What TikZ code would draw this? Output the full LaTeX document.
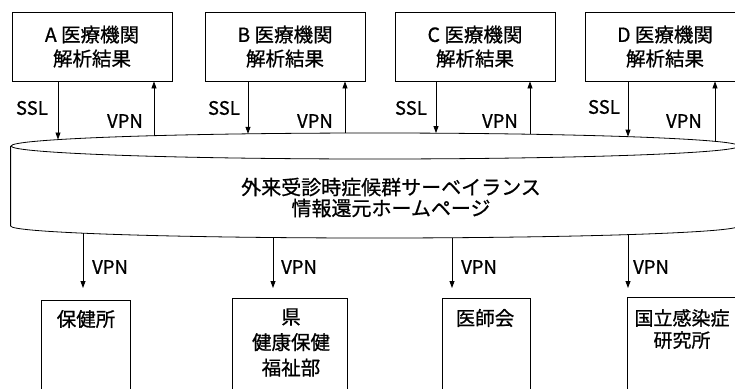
\documentclass[tikz,border=0pt]{standalone}
\usepackage{fontspec}
\setmainfont{Noto Sans CJK JP}[FakeBold=0.8]
\usetikzlibrary{arrows.meta,shapes.geometric}
\begin{document}
\begin{tikzpicture}[x=1pt,y=-1pt,
  box/.style={draw, line width=0.8pt, inner sep=0pt},
  topbox/.style={box, minimum width=160pt, minimum height=69pt,
    font=\fontsize{19.5}{24}\selectfont, align=center},
  botbox/.style={box, minimum height=110pt, anchor=north west},
  boxtxt/.style={font=\fontsize{19.5}{25}\selectfont, align=center, inner sep=0pt},
  lbl/.style={font=\fontsize{18.5}{20}\selectfont, inner sep=0pt},
  conn/.style={line width=0.8pt, -{Triangle[length=7pt,width=5pt]}},
  cylline/.style={line width=0.8pt}]
\useasboundingbox (0,0) rectangle (735,388);
\clip (0,0) rectangle (735,388);

% top boxes
\node[topbox] (A) at (92,46.5) {A 医療機関\\解析結果};
\node[topbox] (B) at (285,46.5) {B 医療機関\\解析結果};
\node[topbox] (C) at (475,46.5) {C 医療機関\\解析結果};
\node[topbox] (D) at (665,46.5) {D 医療機関\\解析結果};

% cylinder
\node[ellipse, draw, cylline, minimum width=728pt, minimum height=26pt, inner sep=0pt] (cyltop) at (375,146) {};
\draw[cylline] (cyltop.west) -- ++(0,80)
  arc[start angle=180, end angle=360, x radius=364pt, y radius=12pt]
  -- (cyltop.east);
\node[font=\fontsize{20}{21}\selectfont, align=center, inner sep=0pt] (cyltxt) at (391,197.5)
  {外来受診時症候群サーベイランス\\情報還元ホームページ};

% contact points on the top ellipse
\coordinate (eA1) at (58,139.5);  \coordinate (eA2) at (154,135.7);
\coordinate (eB1) at (248,133.8); \coordinate (eB2) at (345,133.0);
\coordinate (eC1) at (436,133.1); \coordinate (eC2) at (530,134.2);
\coordinate (eD1) at (628,136.6); \coordinate (eD2) at (715,141.4);

% SSL down, VPN up
\draw[conn] (A.south -| eA1) -- (eA1);
\draw[conn] (eA2) -- (A.south -| eA2);
\draw[conn] (B.south -| eB1) -- (eB1);
\draw[conn] (eB2) -- (B.south -| eB2);
\draw[conn] (C.south -| eC1) -- (eC1);
\draw[conn] (eC2) -- (C.south -| eC2);
\draw[conn] (D.south -| eD1) -- (eD1);
\draw[conn] (eD2) -- (D.south -| eD2);

\node[lbl, anchor=east] (sA) at (48,108) {SSL};
\node[lbl, anchor=east] (sB) at (240,108) {SSL};
\node[lbl, anchor=east] (sC) at (427,108) {SSL};
\node[lbl, anchor=east] (sD) at (620,107) {SSL};
\node[lbl, anchor=east] (vA) at (143,121) {VPN};
\node[lbl, anchor=east] (vB) at (333,121) {VPN};
\node[lbl, anchor=east] (vC) at (518,121) {VPN};
\node[lbl, anchor=east] (vD) at (702,121) {VPN};

% bottom boxes
\node[botbox, minimum width=89pt] (P1) at (41,300) {};
\node[botbox, minimum width=115pt] (P2) at (232,298) {};
\node[botbox, minimum width=88pt] (P3) at (442,298) {};
\node[botbox, minimum width=113pt] (P4) at (627,297) {};

\node[boxtxt] (P1t) at (86,319) {保健所};
\node[boxtxt, font=\fontsize{19.5}{25.5}\selectfont] (P2t) at (291,342.5) {県\\健康保健\\福祉部};
\node[boxtxt] (P3t) at (485,318) {医師会};
\node[boxtxt, font=\fontsize{19}{22}\selectfont] (P4t) at (682,329) {国立感染症\\研究所};

% bottom arrows
\coordinate (d1) at (83,233.2);  \coordinate (f1) at (83,288);
\coordinate (d2) at (273,237.5); \coordinate (f2) at (273,288);
\coordinate (d3) at (452,237.7); \coordinate (f3) at (452,288);
\coordinate (d4) at (628,234.6); \coordinate (f4) at (628,288);
\draw[conn] (d1) -- (f1);
\draw[conn] (d2) -- (f2);
\draw[conn] (d3) -- (f3);
\draw[conn] (d4) -- (f4);

\node[lbl, anchor=west] (w1) at (92,267) {VPN};
\node[lbl, anchor=west] (w2) at (281,267) {VPN};
\node[lbl, anchor=west] (w3) at (461,267) {VPN};
\node[lbl, anchor=west] (w4) at (633,267) {VPN};
\end{tikzpicture}
\end{document}
